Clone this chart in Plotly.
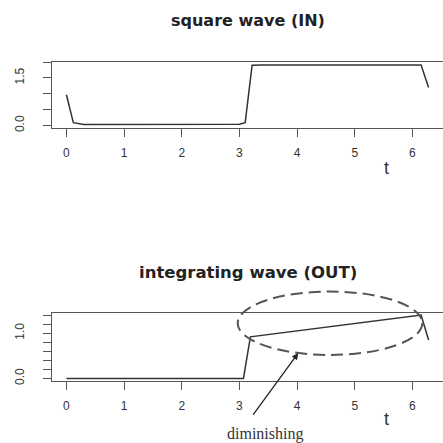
import plotly.graph_objects as go

# ---- data ----
t_in = [0.0, 0.12, 0.3, 1.0, 2.0, 3.0, 3.1, 3.22, 3.4, 4.0, 5.0, 6.0, 6.15, 6.28]
v_in = [0.97, 0.09, 0.03, 0.03, 0.03, 0.04, 0.09, 1.90, 1.91, 1.91, 1.91, 1.91, 1.91, 1.20]

t_out = [0.0, 1.0, 2.0, 3.07, 3.19, 4.0, 5.0, 6.15, 6.28]
v_out = [0.0, 0.0, 0.0, 0.0, 0.92, 1.05, 1.21, 1.40, 0.85]

x_ticks = [0, 1, 2, 3, 4, 5, 6]
y1_ticks = [0.0, 0.5, 1.0, 1.5, 2.0]
y1_labels = ["0.0", "", "", "1.5", ""]
y2_ticks = [0.0, 0.2, 0.4, 0.6, 0.8, 1.0, 1.2, 1.4]
y2_labels = ["0.0", "", "", "", "", "1.0", "", ""]

title_top = "square wave (IN)"
title_bot = "integrating wave (OUT)"
x_label = "t"
note_text = "diminishing"

# ellipse (data units of lower panel): center and radii
ell_cx, ell_cy, ell_rx, ell_ry = 4.57, 1.22, 1.60, 0.70
# arrow (data units of lower panel)
arrow_tail = (3.22, -0.83)
arrow_head = (4.02, 0.56)
note_pos = (3.45, -1.46)
t_pos_top = (5.62, -1.70)
t_pos_bot = (5.62, -1.16)

# ---- layout constants ----
W = H = 443
XR = [-0.25, 6.53]
Y1R = [-0.077, 2.002]
Y2R = [-0.056, 1.446]
XDOM = [52 / W, 1.0]
Y1DOM = [1 - 128 / H, 1 - 62 / H]
Y2DOM = [1 - 381 / H, 1 - 313 / H]

LINE_COL = "#333333"
AX_COL = "#555555"
FONT = "Liberation Sans, Arial, sans-serif"
TFONT = "DejaVu Sans, Verdana, sans-serif"


def fx(v):
    return (v - XR[0]) / (XR[1] - XR[0])


def fy(v, r):
    return (v - r[0]) / (r[1] - r[0])


fig = go.Figure()
fig.add_trace(go.Scatter(x=t_in, y=v_in, mode="lines", xaxis="x", yaxis="y",
                         line=dict(color=LINE_COL, width=1.5), showlegend=False))
fig.add_trace(go.Scatter(x=t_out, y=v_out, mode="lines", xaxis="x2", yaxis="y2",
                         line=dict(color=LINE_COL, width=1.5), showlegend=False))

common_x = dict(range=XR, domain=XDOM, tickvals=x_ticks, ticktext=[str(v) for v in x_ticks],
                showgrid=False, zeroline=False, showline=True, mirror=True, automargin=False,
                linecolor=AX_COL, linewidth=1, ticks="outside", ticklen=8, tickwidth=1,
                tickcolor=AX_COL, ticklabelstandoff=6,
                tickfont=dict(family=FONT, size=12, color="#333"))
common_y = dict(showgrid=False, zeroline=False, showline=True, mirror=True, automargin=False,
                linecolor=AX_COL, linewidth=1, ticks="outside", ticklen=8, tickwidth=1,
                tickcolor=AX_COL, tickangle=-90, ticklabelstandoff=14,
                tickfont=dict(family=FONT, size=12, color="#333"))

fig.update_layout(
    template="none",
    width=W, height=H, margin=dict(l=0, r=0, t=0, b=0, pad=0),
    paper_bgcolor="white", plot_bgcolor="white",
    xaxis=dict(anchor="y", **common_x),
    yaxis=dict(anchor="x", domain=Y1DOM, range=Y1R, tickvals=y1_ticks, ticktext=y1_labels, **common_y),
    xaxis2=dict(anchor="y2", **common_x),
    yaxis2=dict(anchor="x2", domain=Y2DOM, range=Y2R, tickvals=y2_ticks, ticktext=y2_labels, **common_y),
)

xc = (XDOM[0] + XDOM[1]) / 2
annots = [
    dict(text="<b>" + title_top + "</b>", xref="paper", yref="paper", x=xc, y=Y1DOM[1],
         xanchor="center", yanchor="bottom", yshift=30, showarrow=False,
         font=dict(family=TFONT, size=16, color="#222")),
    dict(text="<b>" + title_bot + "</b>", xref="paper", yref="paper", x=xc, y=Y2DOM[1],
         xanchor="center", yanchor="bottom", yshift=29, showarrow=False,
         font=dict(family=TFONT, size=16.5, color="#222")),
    dict(text=x_label, xref="x domain", yref="y domain", x=fx(t_pos_top[0]), y=fy(t_pos_top[1], Y1R),
         showarrow=False, font=dict(family=FONT, size=18, color="#333")),
    dict(text=x_label, xref="x2 domain", yref="y2 domain", x=fx(t_pos_bot[0]), y=fy(t_pos_bot[1], Y2R),
         showarrow=False, font=dict(family=FONT, size=18, color="#333")),
    dict(text="", xref="x2", yref="y2", x=arrow_head[0], y=arrow_head[1],
         axref="x2", ayref="y2", ax=arrow_tail[0], ay=arrow_tail[1],
         showarrow=True, arrowhead=2, arrowsize=1, arrowwidth=1.3, arrowcolor="#222"),
    dict(text=note_text, xref="x2 domain", yref="y2 domain", x=fx(note_pos[0]), y=fy(note_pos[1], Y2R),
         showarrow=False,
         font=dict(family="Liberation Serif, Times New Roman, serif", size=16, color="#333")),
]
fig.update_layout(annotations=annots)

# ellipse converted from data units to domain fractions of the lower panel (avoids clipping)
fig.add_shape(type="circle", xref="x2 domain", yref="y2 domain",
              x0=fx(ell_cx - ell_rx), x1=fx(ell_cx + ell_rx),
              y0=fy(ell_cy - ell_ry, Y2R), y1=fy(ell_cy + ell_ry, Y2R),
              line=dict(color="#555", width=2, dash="12px,6px"))

fig.write_html("out.html", config={"displayModeBar": False},
               post_script="document.body.style.margin='0px';")
